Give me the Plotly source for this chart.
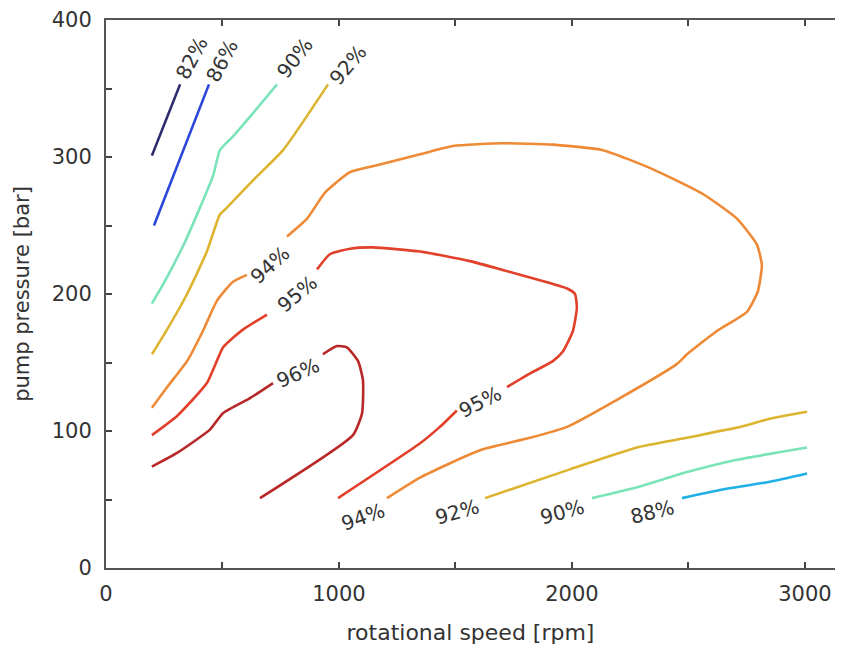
import plotly.graph_objects as go

# ---- contour data (rotational speed [rpm], pump pressure [bar]) ----
c82_x = [197, 318]
c82_y = [301, 353]

c86_x = [206, 442]
c86_y = [250, 353]

c90a_x = [197, 245, 339, 459, 489, 545, 631, 734]
c90a_y = [193, 207, 238, 286, 305, 315, 332, 353]
c90b_x = [2086, 2279, 2494, 2708, 3009]
c90b_y = [51, 59, 70, 79, 88]

c92a_x = [197, 262, 348, 433, 489, 519, 631, 760, 953]
c92a_y = [156, 174, 200, 231, 258, 263, 283, 305, 353]
c92b_x = [1627, 1991, 2279, 2494, 2605, 2721, 2850, 3009]
c92b_y = [51, 72, 88, 95, 99, 103, 109, 114]

c88_x = [2472, 2635, 2850, 3009]
c88_y = [51, 57, 63, 69]

c94a_x = [197, 262, 348, 416, 476, 545, 605]
c94a_y = [117, 132, 151, 173, 195, 209, 214]
c94b_x = [777, 863, 940, 1047, 1163, 1348, 1489, 1704, 1918, 2133, 2348, 2562,
          2708, 2794, 2815, 2798, 2751, 2622, 2494, 2451, 2206, 1979, 1820,
          1605, 1348, 1206]
c94b_y = [242, 255, 274, 289, 294, 302, 308, 310, 309, 305, 291, 273,
          255, 236, 221, 202, 187, 173, 156, 149, 124, 103, 95,
          86, 66, 51]

c95a_x = [197, 305, 433, 502, 545, 588, 691]
c95a_y = [97, 111, 135, 161, 168, 174, 185]
c95b_x = [906, 961, 1047, 1146, 1348, 1562, 1777, 1979, 2013, 2021, 2004,
          1961, 1918, 1820, 1721]
c95b_y = [218, 229, 233, 234, 231, 224, 214, 204, 200, 190, 173,
          158, 151, 142, 132]
c95c_x = [1506, 1433, 1348, 996]
c95c_y = [115, 103, 91, 51]

c96a_x = [197, 305, 446, 502, 618, 717]
c96a_y = [74, 84, 101, 113, 124, 135]
c96b_x = [931, 991, 1034, 1082, 1103, 1099, 1060, 661]
c96b_y = [156, 162, 161, 151, 137, 113, 97, 51]

# ---- contour labels ----
label_text = ["82%", "86%", "90%", "92%", "94%", "95%", "96%", "95%",
              "94%", "92%", "90%", "88%"]
label_x = [369, 498, 811, 1039, 704, 820, 824, 1605, 1103, 1506, 1957, 2343]
label_y = [372, 370, 372, 367, 221, 200, 142, 121, 37, 41, 41, 41]
label_angle = [-62, -62, -52, -50, -42, -40, -24, -27, -20, -16, -15, -14]

x_tick_vals = [0, 500, 1000, 1500, 2000, 2500, 3000]
x_tick_text = ["0", "", "1000", "", "2000", "", "3000"]
y_tick_vals = [0, 50, 100, 150, 200, 250, 300, 350, 400]
y_tick_text = ["0", "", "100", "", "200", "", "300", "", "400"]

colors = {
    "82": "#2E2A6E",
    "86": "#2B46D8",
    "88": "#1FB0E5",
    "90": "#7BE3B8",
    "92": "#DDB430",
    "94": "#EE8A35",
    "95": "#E2402A",
    "96": "#B82828",
}

segments = [
    ("82", c82_x, c82_y), ("86", c86_x, c86_y),
    ("90", c90a_x, c90a_y), ("90", c90b_x, c90b_y),
    ("92", c92a_x, c92a_y), ("92", c92b_x, c92b_y),
    ("88", c88_x, c88_y),
    ("94", c94a_x, c94a_y), ("94", c94b_x, c94b_y),
    ("95", c95a_x, c95a_y), ("95", c95b_x, c95b_y), ("95", c95c_x, c95c_y),
    ("96", c96a_x, c96a_y), ("96", c96b_x, c96b_y),
]

FONT = "DejaVu Sans, Verdana, sans-serif"

fig = go.Figure()
for key, xs, ys in segments:
    fig.add_trace(go.Scatter(
        x=xs, y=ys, mode="lines",
        line=dict(color=colors[key], width=2.6, shape="spline", smoothing=0.5),
        showlegend=False, hoverinfo="skip",
    ))

for t, x, y, a in zip(label_text, label_x, label_y, label_angle):
    fig.add_annotation(
        x=x, y=y, text=t, showarrow=False, textangle=a,
        font=dict(family=FONT, size=20, color="#333333"),
    )

axis_font = dict(family=FONT, size=21, color="#333333")

fig.update_layout(
    width=827, height=637,
    margin=dict(l=98, r=0, t=8, b=76),
    paper_bgcolor="white", plot_bgcolor="white",
    xaxis=dict(
        range=[0, 3129], tickmode="array", tickvals=x_tick_vals, ticktext=x_tick_text,
        ticks="inside", ticklen=6, tickwidth=1.5, tickcolor="#444",
        showline=True, linecolor="#555", linewidth=2, mirror="ticks",
        showgrid=False, zeroline=False, tickfont=axis_font, ticklabelstandoff=6,
        ticklabeloverflow="allow",
        title=dict(text="rotational speed [rpm]",
                   font=dict(family=FONT, size=22, color="#333333"), standoff=23),
    ),
    yaxis=dict(
        range=[0, 400], tickmode="array", tickvals=y_tick_vals, ticktext=y_tick_text,
        ticks="inside", ticklen=6, tickwidth=1.5, tickcolor="#444",
        showline=True, linecolor="#555", linewidth=2, mirror=False,
        showgrid=False, zeroline=False, tickfont=axis_font, ticklabelstandoff=8,
        ticklabeloverflow="allow",
        title=dict(text="pump pressure [bar]",
                   font=dict(family=FONT, size=21, color="#333333"), standoff=16),
    ),
)

fig.write_html("out.html")
